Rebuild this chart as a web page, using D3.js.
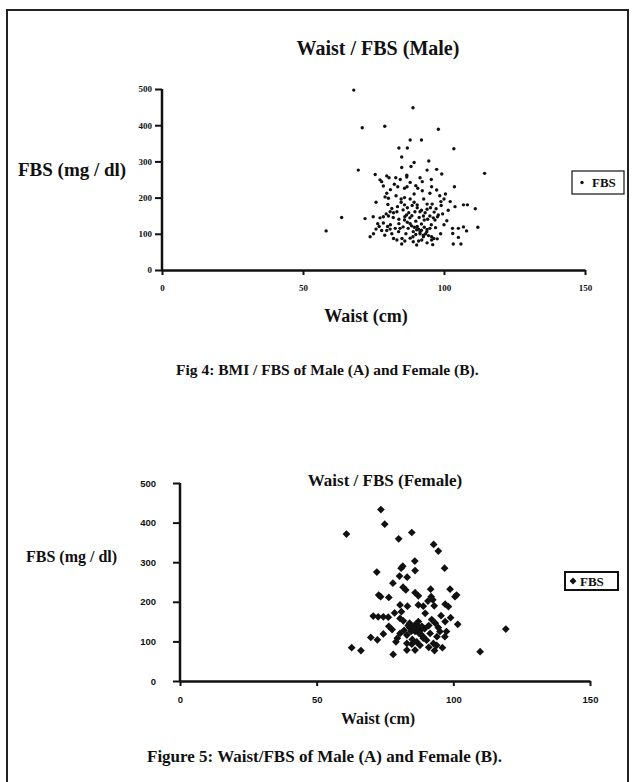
<!DOCTYPE html>
<html lang="en">
<head>
    <meta charset="UTF-8">
    <title>Waist / FBS</title>
    <script src="https://d3js.org/d3.v7.min.js"></script>
    <style>
        body {
            margin: 0;
            background: #fff;
        }
        svg {
            display: block;
        }
        text {
            font-family: "Liberation Serif", "Times New Roman", serif;
            font-weight: bold;
            fill: #111;
        }
    </style>
</head>
<body>
<div id="container"></div>

<script>
    // data
    const xTicks = [0, 50, 100, 150];
    const yTicks = [0, 100, 200, 300, 400, 500];

    const maleWaist = [68, 89, 71, 79, 98, 88, 92, 84, 87, 103.5, 85, 94.6, 89.4, 88.3, 69.6, 114.4, 85, 94, 97.4, 99.2,
        75.6, 79.7, 80.5, 82.9, 86.8, 86.8, 77.3, 77.9, 91.5, 92.3, 90, 90.7, 82.4, 83.6, 86, 86.9, 95.6, 97.4, 103.7, 79.7,
        80.3, 79.1, 89.4, 92.3, 95, 75.9, 80.1, 84.8, 84.8, 88, 89.4, 88.7, 90.5, 92.8, 94, 95.2, 95.8, 98.9, 100, 102.2,
        97.2, 99, 99.5, 97.7, 103.9, 106.9, 108.3, 111.1, 80.9, 82.1, 83.3, 80.3, 78.5, 77.3, 74.9, 72, 63.7, 85.5, 86.7, 86.1,
        87.9, 89.7, 91.5, 93.3, 95, 96.2, 92.7, 101, 58.2, 75.9, 77.9, 79.7, 80.9, 82.7, 83.9, 84.4, 85.5, 87.3, 89.1, 90.3,
        91.5, 92.7, 93.9, 95, 73.8, 82.1, 83.3, 85.1, 86.1, 89.1, 90.3, 92.1, 92.7, 95.6, 95.6, 96.4, 97.6, 103, 105.1, 106.9,
        108, 103.1, 105.1, 103.3, 106, 112, 88.5, 89.5, 90.5, 91, 92, 93, 94, 91.5, 90, 93.5, 89, 94.5, 88, 92,
        87, 95.5, 90, 93, 86, 84, 81, 78.5, 84, 82, 79.5, 81.5, 83.5, 86, 87, 90.5, 92, 94, 96.5, 98,
        96.8, 94.2, 91.2, 88.6, 87.5, 86, 83, 81, 78.5, 88, 84.5, 95.5, 98.5, 100.5, 101.5, 100, 97, 98.8, 76.5, 75,
        79, 81.5, 86.5, 88, 91, 94, 96, 85, 80, 77];
    const maleFbs = [497, 448, 393, 397, 389, 359, 359, 337, 337, 335, 312, 301, 297, 286, 276, 267, 283, 276, 278, 265,
        264, 260, 255, 255, 262, 257, 249, 244, 255, 244, 233, 226, 237, 230, 226, 230, 230, 221, 230, 212,
        198, 202, 210, 219, 212, 187, 181, 196, 187, 196, 187, 178, 172, 196, 182, 172, 182, 189, 196, 189,
        169, 178, 155, 147, 175, 180, 180, 169, 161, 158, 161, 149, 147, 144, 147, 142, 145, 166, 152, 147,
        144, 161, 161, 158, 149, 144, 149, 136, 108, 113, 109, 109, 113, 115, 106, 115, 119, 115, 106, 111,
        106, 96, 106, 115, 92, 87, 83, 87, 80, 78, 69, 83, 92, 92, 83, 87, 86, 115, 115, 119,
        108, 101, 90, 72, 72, 118, 122, 118, 120, 113, 110, 118, 112, 100, 98, 100, 92, 95, 128, 127,
        132, 125, 135, 138, 138, 128, 125, 130, 140, 145, 155, 170, 175, 180, 172, 180, 165, 168, 160, 152,
        138, 140, 145, 150, 158, 200, 205, 222, 232, 242, 250, 250, 205, 210, 165, 125, 117, 100, 128, 100,
        96, 100, 100, 88, 80, 75, 70, 72, 120, 120];

    const femaleWaist = [73.5, 74.9, 60.9, 84.8, 80, 92.8, 94.5, 85.9, 80.9, 81.5, 86, 96.8, 72, 80.3, 83.1, 77.9, 81.6, 82.6, 91.7, 98.8,
        86, 87.2, 72.7, 73.4, 76.4, 91.9, 92.5, 90.7, 100.6, 101.2, 80.5, 83.2, 87.2, 89, 97, 98.2, 70.7, 72.5, 74.4, 76.2,
        80.5, 81.7, 84, 85.9, 87.2, 89.7, 92.1, 93.4, 101.6, 119.2, 76.4, 77.6, 74.4, 80.5, 83, 86, 87.8, 89, 91.5, 94,
        95.1, 97.5, 96.9, 69.8, 72.2, 79, 83, 84.8, 86.6, 87.8, 90.2, 92.7, 93.9, 62.8, 66.2, 78, 83, 86, 93.1, 96,
        109.8, 84, 85, 86, 87, 85.5, 86.5, 84.5, 88, 83.5, 87.5, 88.5, 89.5, 82, 91, 94.5, 97, 99, 95.5, 81,
        78.5, 79.5, 89, 91, 85, 93];
    const femaleFbs = [433, 396, 371, 375, 359, 345, 328, 303, 285, 290, 279, 285, 275, 265, 262, 247, 237, 230, 232, 232,
        223, 215, 217, 213, 211, 213, 205, 202, 213, 217, 192, 189, 192, 189, 194, 188, 164, 162, 162, 161,
        158, 152, 146, 141, 150, 171, 155, 146, 143, 131, 138, 130, 119, 120, 116, 125, 120, 112, 120, 112,
        125, 125, 112, 110, 104, 99, 95, 93, 99, 90, 103, 95, 90, 84, 77, 67, 78, 78, 77, 84,
        74, 135, 130, 128, 133, 138, 142, 125, 128, 140, 120, 138, 132, 128, 140, 135, 150, 160, 165, 175,
        172, 108, 108, 85, 105, 190];

    const male = maleWaist.map((w, i) => ({waist: w, fbs: maleFbs[i]}));
    const female = femaleWaist.map((w, i) => ({waist: w, fbs: femaleFbs[i]}));

    const svg = d3.select('#container').append('svg')
        .attr('width', 632)
        .attr('height', 782);

    // page frame
    svg.append('rect')
        .attr('x', 7).attr('y', 10)
        .attr('width', 621).attr('height', 800)
        .attr('fill', 'none')
        .attr('stroke', '#222')
        .attr('stroke-width', 2);

    function drawChart(opt) {
        const g = svg.append('g');

        const x = d3.scaleLinear().domain([0, 150]).range([opt.left, opt.right]);
        const y = d3.scaleLinear().domain([0, 500]).range([opt.bottom, opt.top]);

        // y axis
        const yAxis = g.append('g')
            .attr('transform', `translate(${opt.left},0)`)
            .call(d3.axisLeft(y).tickValues(yTicks).tickSize(7).tickPadding(opt.yPad).tickSizeOuter(0));

        // x axis
        const xAxis = g.append('g')
            .attr('transform', `translate(0,${opt.bottom})`)
            .call(d3.axisBottom(x).tickValues(xTicks).tickSize(5).tickPadding(opt.xPad).tickSizeOuter(0));

        [yAxis, xAxis].forEach(a => {
            a.select('.domain').attr('stroke', '#111').attr('stroke-width', 2.5);
            a.selectAll('.tick line').attr('stroke', '#111').attr('stroke-width', 2);
            a.selectAll('.tick text')
                .attr('font-size', opt.tickSize)
                .style('font-family', opt.sans ? '"Liberation Sans", Arial, sans-serif' : null)
                .attr('fill', '#111');
        });
        yAxis.select('.domain').attr('d', `M0,${opt.bottom}V${opt.top}`);

        // points
        if (opt.diamond) {
            g.selectAll('.pt')
                .data(opt.data)
                .enter()
                .append('path')
                .attr('class', 'pt')
                .attr('d', d3.symbol(d3.symbolSquare, 30))
                .attr('transform', d => `translate(${x(d.waist)},${y(d.fbs)}) rotate(45)`)
                .attr('fill', '#111');
        } else {
            g.selectAll('.pt')
                .data(opt.data)
                .enter()
                .append('circle')
                .attr('class', 'pt')
                .attr('cx', d => x(d.waist))
                .attr('cy', d => y(d.fbs))
                .attr('r', 1.7)
                .attr('fill', '#111');
        }

        // titles and labels
        svg.append('text')
            .attr('x', opt.titleX).attr('y', opt.titleY)
            .attr('text-anchor', 'middle')
            .attr('font-size', opt.titleSize)
            .text(opt.title);

        svg.append('text')
            .attr('x', opt.yLabelX).attr('y', opt.yLabelY)
            .attr('font-size', opt.yLabelSize)
            .text('FBS (mg / dl)');

        svg.append('text')
            .attr('x', opt.xLabelX).attr('y', opt.xLabelY)
            .attr('text-anchor', 'middle')
            .attr('font-size', opt.xLabelSize)
            .text('Waist (cm)');

        svg.append('text')
            .attr('x', opt.captionX).attr('y', opt.captionY)
            .attr('font-size', opt.captionSize)
            .text(opt.caption);

        // legend
        const lg = svg.append('g').attr('transform', `translate(${opt.legend[0]},${opt.legend[1]})`);
        lg.append('rect')
            .attr('width', opt.legend[2]).attr('height', opt.legend[3])
            .attr('fill', '#fff')
            .attr('stroke', '#111')
            .attr('stroke-width', opt.diamond ? 2 : 1.2);
        if (opt.diamond) {
            lg.append('path')
                .attr('d', d3.symbol(d3.symbolSquare, 24))
                .attr('transform', `translate(8,${opt.legend[3] / 2}) rotate(45)`)
                .attr('fill', '#111');
        } else {
            lg.append('circle')
                .attr('cx', 10).attr('cy', opt.legend[3] / 2)
                .attr('r', 1.7).attr('fill', '#111');
        }
        lg.append('text')
            .attr('x', opt.diamond ? 15 : 20)
            .attr('y', opt.legend[3] / 2 + 4.5)
            .attr('font-size', 13)
            .text('FBS');
    }

    drawChart({
        data: male,
        left: 162, right: 585, top: 89, bottom: 270,
        yPad: 3, xPad: 10, tickSize: 9,
        title: 'Waist / FBS (Male)', titleX: 378, titleY: 55, titleSize: 20,
        yLabelX: 18, yLabelY: 176, yLabelSize: 19,
        xLabelX: 366, xLabelY: 322, xLabelSize: 18,
        caption: 'Fig 4: BMI / FBS of Male (A) and Female (B).', captionX: 176, captionY: 375, captionSize: 15.5,
        legend: [572, 171, 52, 23],
        diamond: false, sans: false
    });

    drawChart({
        data: female,
        left: 180, right: 590, top: 483, bottom: 681,
        yPad: 17, xPad: 10, tickSize: 9.5,
        title: 'Waist / FBS (Female)', titleX: 385, titleY: 486, titleSize: 17,
        yLabelX: 26, yLabelY: 562, yLabelSize: 16,
        xLabelX: 378, xLabelY: 724, xLabelSize: 16,
        caption: 'Figure 5: Waist/FBS of Male (A) and Female (B).', captionX: 147, captionY: 762, captionSize: 17,
        legend: [565, 572, 53, 18],
        diamond: true, sans: true
    });
</script>
</body>
</html>
